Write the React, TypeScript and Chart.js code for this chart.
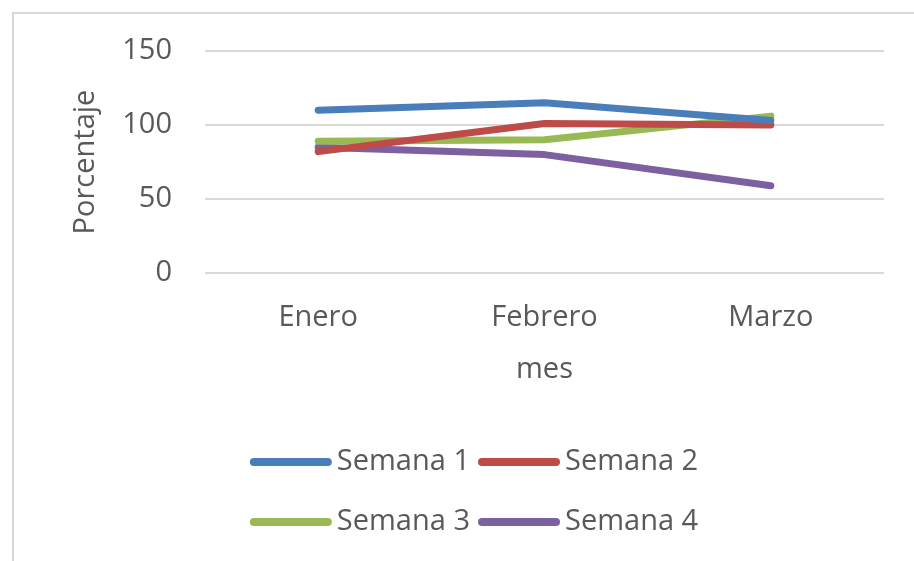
import React, { useEffect, useRef } from "react";
import { Chart, registerables } from "chart.js";

Chart.register(...registerables);

const categories = ["Enero", "Febrero", "Marzo"];
const seriesNames = ["Semana 1", "Semana 2", "Semana 3", "Semana 4"];
const semana1 = [110, 115, 103];
const semana2 = [82, 101, 100];
const semana3 = [89, 90, 106];
const semana4 = [85, 80, 59];
const seriesColors = ["#4A7EBB", "#BE4B48", "#98B954", "#7D60A0"];
const yTicks = [0, 50, 100, 150];

const FONT = "'Open Sans', 'Noto Sans', sans-serif";
const TEXT = "#595959";
const FS = 29;

const frameAndLegend = {
  id: "frameAndLegend",
  beforeDraw(chart: any) {
    const ctx = chart.ctx;
    ctx.save();
    ctx.strokeStyle = "#d9d9d9";
    ctx.lineWidth = 2;
    ctx.strokeRect(13, 13, 1000, 1000);
    ctx.restore();
  },
  afterDraw(chart: any) {
    const ctx = chart.ctx;
    const ds = chart.data.datasets;
    ctx.save();
    ctx.font = `${FS}px ${FONT}`;
    ctx.textBaseline = "middle";
    ctx.textAlign = "left";
    const sample = 82;
    const gap1 = 5;
    const gap2 = 8;
    const rowsY = [462, 522];
    const centerX = 474;
    for (let r = 0; r < 2; r++) {
      const items = ds.slice(r * 2, r * 2 + 2);
      const widths = items.map((d: any) => sample + gap1 + ctx.measureText(d.label).width);
      const total = widths.reduce((a: number, b: number) => a + b, 0) + gap2 * (items.length - 1);
      let x = centerX - total / 2;
      items.forEach((d: any, i: number) => {
        const y = rowsY[r];
        ctx.strokeStyle = d.borderColor;
        ctx.lineWidth = 8;
        ctx.lineCap = "round";
        ctx.beginPath();
        ctx.moveTo(x + 4, y);
        ctx.lineTo(x + sample - 4, y);
        ctx.stroke();
        ctx.fillStyle = TEXT;
        ctx.fillText(d.label, x + sample + gap1, y);
        x += widths[i] + gap2;
      });
    }
    ctx.restore();
  },
};

export default function App() {
  const ref = useRef<HTMLCanvasElement>(null);
  useEffect(() => {
    if (!ref.current) return;
    const data = [semana1, semana2, semana3, semana4];
    const chart = new Chart(ref.current, {
      type: "line",
      data: {
        labels: categories,
        datasets: seriesNames.map((name, i) => ({
          label: name,
          data: data[i],
          borderColor: seriesColors[i],
          backgroundColor: seriesColors[i],
          borderWidth: 7,
          borderCapStyle: "round",
          borderJoinStyle: "round",
          pointRadius: 0,
          tension: 0,
        })),
      },
      options: {
        responsive: false,
        animation: false,
        devicePixelRatio: 1,
        layout: { padding: { left: 0, right: 30, top: 51, bottom: 168 } },
        plugins: { legend: { display: false }, tooltip: { enabled: false } },
        scales: {
          x: {
            offset: true,
            grid: { display: false, drawTicks: false },
            border: { display: false },
            ticks: { color: TEXT, font: { family: FONT, size: FS }, padding: 27 },
            title: {
              display: true,
              text: "mes",
              color: TEXT,
              font: { family: FONT, size: FS },
              padding: { top: 0, bottom: 6 },
            },
            afterFit: (s: any) => {
              s.height = 120;
            },
          },
          y: {
            min: 0,
            max: 150,
            afterBuildTicks: (s: any) => {
              s.ticks = yTicks.map((v) => ({ value: v }));
            },
            grid: { color: "#d9d9d9", lineWidth: 2, drawTicks: false },
            border: { display: false },
            ticks: { color: TEXT, font: { family: FONT, size: FS }, padding: 33 },
            title: {
              display: true,
              text: "Porcentaje",
              color: TEXT,
              font: { family: FONT, size: FS },
              padding: { top: 68, bottom: 0 },
            },
            afterFit: (s: any) => {
              s.width = 205;
            },
          },
        },
      },
      plugins: [frameAndLegend],
    } as any);
    return () => chart.destroy();
  }, []);
  return (
    <div style={{ position: "absolute", left: 0, top: 0, width: 914, height: 561, background: "#fff" }}>
      <canvas ref={ref} width={914} height={561} style={{ display: "block" }} />
    </div>
  );
}
